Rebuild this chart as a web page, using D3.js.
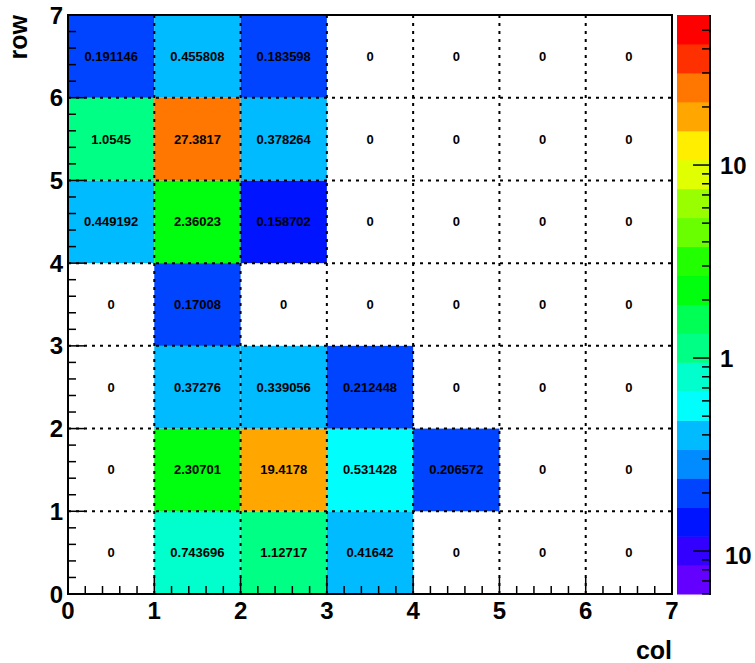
<!DOCTYPE html>
<html>
<head>
<meta charset="utf-8">
<script src="https://cdn.jsdelivr.net/npm/d3@7"></script>
<style>
  html, body { margin: 0; padding: 0; background: #fff; }
  svg { display: block; font-family: "Liberation Sans", Arial, Helvetica, sans-serif; font-weight: bold; }
</style>
</head>
<body>
<svg id="chart" width="755" height="663"></svg>
<script>
// ---- data ----
const colBins = [0, 1, 2, 3, 4, 5, 6];
const rowBins = [0, 1, 2, 3, 4, 5, 6];
// values per row (row 0 at bottom), one entry per column
const row0 = [0, 0.743696, 1.12717, 0.41642, 0, 0, 0];
const row1 = [0, 2.30701, 19.4178, 0.531428, 0.206572, 0, 0];
const row2 = [0, 0.37276, 0.339056, 0.212448, 0, 0, 0];
const row3 = [0, 0.17008, 0, 0, 0, 0, 0];
const row4 = [0.449192, 2.36023, 0.158702, 0, 0, 0, 0];
const row5 = [1.0545, 27.3817, 0.378264, 0, 0, 0, 0];
const row6 = [0.191146, 0.455808, 0.183598, 0, 0, 0, 0];
const rowsData = [row0, row1, row2, row3, row4, row5, row6];
const cellTexts = [
  ["0", "0.743696", "1.12717", "0.41642", "0", "0", "0"],
  ["0", "2.30701", "19.4178", "0.531428", "0.206572", "0", "0"],
  ["0", "0.37276", "0.339056", "0.212448", "0", "0", "0"],
  ["0", "0.17008", "0", "0", "0", "0", "0"],
  ["0.449192", "2.36023", "0.158702", "0", "0", "0", "0"],
  ["1.0545", "27.3817", "0.378264", "0", "0", "0", "0"],
  ["0.191146", "0.455808", "0.183598", "0", "0", "0", "0"]
];
const xTickLabels = ["0", "1", "2", "3", "4", "5", "6", "7"];
const yTickLabels = ["0", "1", "2", "3", "4", "5", "6", "7"];
const zTickValues = [10, 1, 0.1];
const zTickLabels = ["10", "1", "10"];
const zMax = 59.9;
const zMin = 0.0599;
const nContours = 20;
const nPaletteColors = 50;

// ---- layout ----
const svg = d3.select("#chart");
const L = 68, R = 672, T = 15, B = 594;
const palL = 677, palR = 710;

const x = d3.scaleLinear().domain([0, 7]).range([L, R]);
const y = d3.scaleLinear().domain([0, 7]).range([B, T]);
const zPos = d3.scaleLog().domain([zMin, zMax]).range([B, T]);

const lmin = Math.log10(zMin), lmax = Math.log10(zMax);
function paletteColor(level) {
  const idx = Math.floor((level + 0.99) * nPaletteColors / nContours);
  const hue = 280 - (idx + 1) * (280 / nPaletteColors);
  return d3.hsl(hue, 1, 0.5).formatHex();
}
function levelOf(v) {
  let l = Math.floor((Math.log10(v) - lmin) / (lmax - lmin) * nContours);
  return Math.max(0, Math.min(nContours - 1, l));
}

// cells
const cells = [];
rowsData.forEach((row, ri) => row.forEach((v, ci) => cells.push({ r: rowBins[ri], c: colBins[ci], v: v, t: cellTexts[ri][ci] })));

svg.append("g").selectAll("rect").data(cells.filter(d => d.v > 0)).join("rect")
  .attr("x", d => x(d.c)).attr("y", d => y(d.r + 1))
  .attr("width", d => x(d.c + 1) - x(d.c)).attr("height", d => y(d.r) - y(d.r + 1))
  .attr("fill", d => paletteColor(levelOf(d.v)));

// grid (dotted)
const grid = svg.append("g").attr("stroke", "#000").attr("stroke-width", 2).attr("stroke-dasharray", "3,5");
grid.selectAll("line.v").data(d3.range(1, 7)).join("line").attr("class", "v")
  .attr("x1", d => x(d)).attr("x2", d => x(d)).attr("y1", B).attr("y2", T);
grid.selectAll("line.h").data(d3.range(1, 7)).join("line").attr("class", "h")
  .attr("y1", d => y(d)).attr("y2", d => y(d)).attr("x1", L).attr("x2", R);

// cell texts
svg.append("g").selectAll("text").data(cells).join("text")
  .attr("x", d => (x(d.c) + x(d.c + 1)) / 2)
  .attr("y", d => (y(d.r) + y(d.r + 1)) / 2)
  .attr("text-anchor", "middle").attr("dominant-baseline", "central")
  .attr("font-size", 13).attr("fill", "#000")
  .text(d => d.t);

// frame
svg.append("rect").attr("x", L).attr("y", T).attr("width", R - L).attr("height", B - T)
  .attr("fill", "none").attr("stroke", "#000").attr("stroke-width", 2);

// axis ticks
const ticks = svg.append("g").attr("stroke", "#000").attr("stroke-width", 1.5);
const minorVals = d3.range(0, 35).map(i => i / 5).filter(v => Math.abs(v - Math.round(v)) > 1e-6);
ticks.selectAll("line.xm").data(minorVals).join("line").attr("class", "xm")
  .attr("x1", d => x(d)).attr("x2", d => x(d)).attr("y1", B).attr("y2", B - 8);
ticks.selectAll("line.xM").data(d3.range(0, 8)).join("line").attr("class", "xM")
  .attr("x1", d => x(d)).attr("x2", d => x(d)).attr("y1", B).attr("y2", B - 17);
ticks.selectAll("line.ym").data(minorVals).join("line").attr("class", "ym")
  .attr("y1", d => y(d)).attr("y2", d => y(d)).attr("x1", L).attr("x2", L + 8);
ticks.selectAll("line.yM").data(d3.range(0, 8)).join("line").attr("class", "yM")
  .attr("y1", d => y(d)).attr("y2", d => y(d)).attr("x1", L).attr("x2", L + 17);

// tick labels
svg.append("g").selectAll("text").data(xTickLabels).join("text")
  .attr("x", (d, i) => x(i)).attr("y", 619)
  .attr("text-anchor", "middle").attr("font-size", 24).text(d => d);
svg.append("g").selectAll("text").data(yTickLabels).join("text")
  .attr("x", 63).attr("y", (d, i) => y(i) + 8.5)
  .attr("text-anchor", "end").attr("font-size", 24).text(d => d);

// axis titles
svg.append("text").attr("x", 672).attr("y", 659).attr("text-anchor", "end")
  .attr("font-size", 25).text("col");
svg.append("text").attr("transform", "translate(27,15) rotate(-90)")
  .attr("text-anchor", "end").attr("font-size", 25).text("row");

// palette
const bands = d3.range(nContours);
svg.append("g").selectAll("rect").data(bands).join("rect")
  .attr("x", palL).attr("width", palR - palL)
  .attr("y", d => zPos(Math.pow(10, lmin + (d + 1) * (lmax - lmin) / nContours)))
  .attr("height", d => zPos(Math.pow(10, lmin + d * (lmax - lmin) / nContours)) - zPos(Math.pow(10, lmin + (d + 1) * (lmax - lmin) / nContours)) + 0.5)
  .attr("fill", d => paletteColor(d));

const zMinor = [];
[0.01, 0.1, 1, 10].forEach(dec => { for (let k = 2; k <= 9; k++) { const v = k * dec; if (v >= zMin && v <= zMax) zMinor.push(v); } });
const zt = svg.append("g").attr("stroke", "#000").attr("stroke-width", 1.5);
zt.append("line").attr("x1", palR).attr("x2", palR).attr("y1", T).attr("y2", B + 1).attr("stroke-width", 2);
zt.selectAll("line.zm").data(zMinor).join("line").attr("class", "zm")
  .attr("x1", palR).attr("x2", palR - 8).attr("y1", d => zPos(d)).attr("y2", d => zPos(d));
zt.selectAll("line.zM").data(zTickValues).join("line").attr("class", "zM")
  .attr("x1", palR).attr("x2", palR - 17).attr("y1", d => zPos(d)).attr("y2", d => zPos(d));

svg.append("g").selectAll("text").data(zTickValues).join("text")
  .attr("x", (d, i) => i === 2 ? 725 : 720).attr("y", (d, i) => zPos(d) + (i === 2 ? 12.5 : 8.5))
  .attr("text-anchor", "start").attr("font-size", 24).text((d, i) => zTickLabels[i]);
</script>
</body>
</html>
